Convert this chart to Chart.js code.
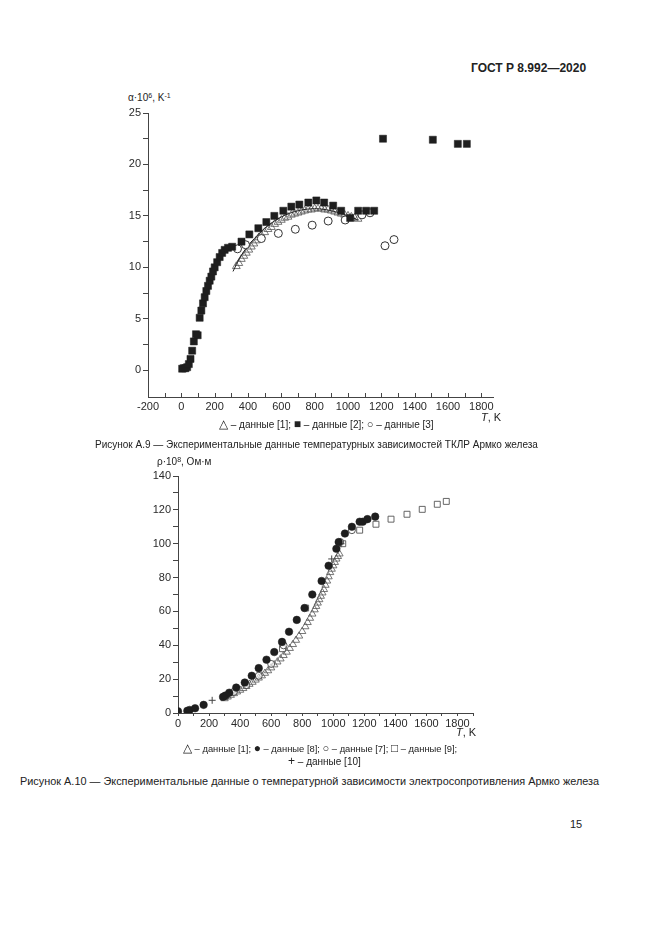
<!DOCTYPE html>
<html lang="ru">
<head>
<meta charset="UTF-8">
<title>ГОСТ Р 8.992—2020</title>
<script src="https://cdn.jsdelivr.net/npm/chart.js"></script>
<style>
  body { margin: 0; background: #fff; font-family: "Liberation Sans", Arial, sans-serif; color: #222; }
  .page { position: relative; width: 661px; height: 935px; overflow: hidden; }
  .t { position: absolute; white-space: nowrap; line-height: 1; }
  canvas { position: absolute; }
  sup { font-size: 70%; vertical-align: 0; position: relative; top: -0.45em; }
</style>
</head>
<body>
<div class="page">
  <div class="t" style="left:471px;top:62px;font-size:12px;font-weight:bold;">ГОСТ Р 8.992—2020</div>

  <div class="t" style="left:128px;top:93px;font-size:10px;">α·10<sup>6</sup>, K<sup>-1</sup></div>
  <canvas id="alphaChart" width="420" height="330" style="left:100px;top:100px;"></canvas>
  <div class="t" style="left:481px;top:412px;font-size:11px;"><i>T</i>, K</div>
  <div class="t" style="left:219px;top:418px;font-size:10px;"><span style="font-size:12px">△</span> – данные [1]; <span style="font-size:12px">■</span> – данные [2]; <span style="font-size:11px">○</span> – данные [3]</div>
  <div class="t" style="left:95px;top:440px;font-size:10px;">Рисунок А.9 — Экспериментальные данные температурных зависимостей ТКЛР Армко железа</div>

  <div class="t" style="left:157px;top:457px;font-size:10px;">ρ·10<sup>8</sup>, Ом·м</div>
  <canvas id="rhoChart" width="360" height="280" style="left:130px;top:463px;"></canvas>
  <div class="t" style="left:456px;top:727px;font-size:11px;"><i>T</i>, K</div>
  <div class="t" style="left:183px;top:742px;font-size:9.4px;"><span style="font-size:12px">△</span> – данные [1]; <span style="font-size:12px">●</span> – данные [8]; <span style="font-size:11px">○</span> – данные [7]; <span style="font-size:12px">□</span> – данные [9];</div>
  <div class="t" style="left:288px;top:755px;font-size:10px;"><span style="font-size:12px">+</span> – данные [10]</div>
  <div class="t" style="left:20px;top:776px;font-size:10.9px;">Рисунок А.10 — Экспериментальные данные о температурной зависимости электросопротивления Армко железа</div>

  <div class="t" style="left:570px;top:819px;font-size:11px;">15</div>
</div>

<script>
// ---- Рисунок А.9: ТКЛР, alpha*1e6 (1/K) vs T (K) ----
const alphaT1 = [330, 345, 360, 375, 390, 405, 420, 435, 450, 465, 480, 500, 520, 540, 560, 580, 600, 620, 640, 660,
                 680, 700, 720, 740, 760, 780, 800, 820, 840, 860, 880, 900, 920, 940, 960, 980, 1000, 1020, 1040, 1060];
const alpha1  = [10.1, 10.4, 10.8, 11.1, 11.4, 11.7, 12.0, 12.3, 12.6, 12.9, 13.1, 13.4, 13.7, 13.9, 14.2, 14.4, 14.6, 14.8, 14.9, 15.1,
                 15.2, 15.3, 15.4, 15.5, 15.6, 15.6, 15.7, 15.7, 15.7, 15.6, 15.6, 15.5, 15.4, 15.3, 15.2, 15.1, 15.0, 14.9, 14.8, 14.7];
const fitT1   = [310, 350, 400, 450, 500, 600, 700, 800, 900, 1000, 1060];
const fit1    = [9.6, 10.9, 12.1, 13.0, 13.8, 14.9, 15.5, 15.7, 15.5, 15.0, 14.6];
const alphaT2 = [5, 15, 25, 35, 45, 55, 65, 75, 88, 98, 110, 120, 130, 140, 150, 160, 170, 180, 190, 200,
                 215, 230, 245, 260, 280, 305, 361, 408, 462, 510, 558, 612, 660, 708, 762, 810, 857, 911, 959,
                 1013, 1061, 1109, 1157, 1210, 1509, 1659, 1713];
const alpha2  = [0.15, 0.2, 0.2, 0.3, 0.6, 1.1, 1.9, 2.8, 3.5, 3.4, 5.1, 5.8, 6.5, 7.1, 7.7, 8.2, 8.7, 9.1, 9.6, 10.0,
                 10.5, 11.0, 11.4, 11.7, 11.9, 12.0, 12.5, 13.2, 13.8, 14.4, 15.0, 15.5, 15.9, 16.1, 16.3, 16.5, 16.3, 16.0, 15.5,
                 14.8, 15.5, 15.5, 15.5, 22.5, 22.4, 22.0, 22.0];
const alphaT3 = [337, 385, 480, 582, 684, 785, 881, 983, 1084, 1132, 1222, 1276];
const alpha3  = [11.8, 12.2, 12.8, 13.3, 13.7, 14.1, 14.5, 14.6, 15.1, 15.3, 12.1, 12.7];

// ---- Рисунок А.10: rho*1e8 (Ом·м) vs T (K) ----
const rhoT1 = [300, 320, 340, 360, 380, 400, 420, 440, 460, 480, 500, 520, 540, 560, 580, 600, 620, 640, 660, 680, 700,
               720, 740, 760, 780, 800, 820, 835, 850, 865, 880, 890, 900, 910, 920, 930, 940, 950, 960, 970, 980, 990, 1000, 1010, 1020, 1030, 1040];
const rho1  = [8.5, 9.5, 10.5, 11.5, 12.5, 13.5, 14.5, 15.7, 17, 18.2, 19.5, 20.7, 22, 23.5, 25, 26.7, 28.5, 30.2, 32, 34, 36,
               38.2, 40.5, 43, 45.5, 48.2, 51, 53.5, 56, 58.5, 61, 63, 65, 67, 69, 71, 73, 75.5, 78, 80.5, 83, 85, 87, 89, 91, 92.5, 94];
const rhoT8 = [0, 60, 75, 110, 165, 290, 305, 330, 375, 430, 475, 520, 570, 620, 670, 715, 765, 815, 865, 925, 970, 1020, 1035, 1075, 1120, 1170, 1190, 1220, 1270];
const rho8  = [1, 1.3, 1.8, 2.8, 4.8, 9.5, 10.3, 12, 15, 18, 22, 26.5, 31.5, 36, 42, 48, 55, 62, 70, 78, 87, 97, 101, 106, 110, 113, 113, 114.5, 116];
const rhoT7 = [310, 360, 440, 520, 600, 680, 1045, 1120];
const rho7  = [10, 12.5, 16.5, 22, 29, 40, 101, 108];
const rhoT9 = [673, 822, 1061, 1170, 1275, 1372, 1475, 1573, 1670, 1728];
const rho9  = [38, 62, 100, 108, 111.5, 114.5, 117.4, 120.3, 123.3, 125];
const rhoT10 = [220, 990, 1050];
const rho10  = [7.5, 91, 100];

const xy = (xs, ys) => xs.map((x, i) => ({ x: x, y: ys[i] }));

const ink = '#2a2a2a';
const tickFont = { family: '"Liberation Sans", Arial, sans-serif', size: 11 };

// x-axis tick marks pointing into the plot
const innerTicks = {
  id: 'innerTicks',
  afterDraw(chart, args, opts) {
    if (!opts.enabled) return;
    const sx = chart.scales.x, ctx = chart.ctx;
    ctx.save();
    ctx.strokeStyle = '#444';
    ctx.lineWidth = 1;
    sx.ticks.forEach(t => {
      const px = Math.round(sx.getPixelForValue(t.value)) + 0.5;
      ctx.beginPath();
      ctx.moveTo(px, sx.top);
      ctx.lineTo(px, sx.top - 4);
      ctx.stroke();
    });
    ctx.restore();
  }
};

function axes(o) {
  return {
    x: {
      type: 'linear', min: o.xmin, max: o.xmax,
      afterFit: s => { s.height = o.xh; },
      border: { display: true, color: '#444', width: 1 },
      grid: { drawOnChartArea: false, drawTicks: !o.inner, tickLength: 3, color: '#444' },
      ticks: {
        stepSize: 100, includeBounds: false, autoSkip: false, maxRotation: 0, padding: o.inner ? 3 : 1,
        color: ink, font: tickFont,
        callback: v => (v % 200 === 0 ? String(v) : '')
      }
    },
    y: {
      type: 'linear', min: o.ymin, max: o.ymax,
      afterFit: s => { s.width = 48; },
      afterBuildTicks: s => { s.ticks = s.ticks.filter(t => t.value >= o.ymin + 0.5); if (o.ymin === 0) s.ticks.unshift({ value: 0 }); },
      border: { display: true, color: '#444', width: 1 },
      grid: { drawOnChartArea: false, drawTicks: true, tickLength: 5, color: '#444' },
      ticks: {
        stepSize: o.ystep, includeBounds: false, autoSkip: false, padding: 2,
        color: ink, font: tickFont,
        callback: v => (Math.abs(v % o.ylab) < 1e-6 ? String(v) : '')
      }
    }
  };
}

const common = {
  responsive: false,
  animation: false,
  plugins: { legend: { display: false }, tooltip: { enabled: false } }
};

new Chart(document.getElementById('alphaChart'), {
  type: 'scatter',
  data: {
    datasets: [
      { data: xy(alphaT2, alpha2), pointStyle: 'rect', pointRadius: 5, backgroundColor: '#1e1e1e', borderColor: '#1e1e1e', borderWidth: 0.5 },
      { data: xy(alphaT3, alpha3), pointStyle: 'circle', pointRadius: 4, backgroundColor: '#fff', borderColor: '#333', borderWidth: 1 },
      { data: xy(fitT1, fit1), showLine: true, pointRadius: 0, borderColor: '#222', borderWidth: 1, cubicInterpolationMode: 'monotone', fill: false },
      { data: xy(alphaT1, alpha1), pointStyle: 'triangle', pointRadius: 4.5, backgroundColor: 'rgba(0,0,0,0)', borderColor: '#555', borderWidth: 0.8 }
    ]
  },
  options: Object.assign({}, common, {
    layout: { padding: { top: 13, right: 27, left: 0, bottom: 0 } },
    scales: axes({ xmin: -200, xmax: 1870, xh: 33, inner: true, ymin: -2.6, ymax: 25, ystep: 2.5, ylab: 5 }),
    plugins: Object.assign({}, common.plugins, { innerTicks: { enabled: true } })
  }),
  plugins: [innerTicks]
});

new Chart(document.getElementById('rhoChart'), {
  type: 'scatter',
  data: {
    datasets: [
      { data: xy(rhoT8, rho8), pointStyle: 'circle', pointRadius: 3.8, backgroundColor: '#1e1e1e', borderColor: '#1e1e1e', borderWidth: 0.5 },
      { data: xy(rhoT10, rho10), pointStyle: 'cross', pointRadius: 3.5, borderColor: '#444', borderWidth: 1 },
      { data: xy(rhoT7, rho7), pointStyle: 'circle', pointRadius: 3.5, backgroundColor: 'rgba(255,255,255,0.6)', borderColor: '#444', borderWidth: 0.9 },
      { data: xy(rhoT9, rho9), pointStyle: 'rect', pointRadius: 4.2, backgroundColor: 'rgba(255,255,255,0.6)', borderColor: '#555', borderWidth: 0.9 },
      { data: xy(rhoT1, rho1), pointStyle: 'triangle', pointRadius: 4.2, backgroundColor: 'rgba(0,0,0,0)', borderColor: '#555', borderWidth: 0.8 }
    ]
  },
  options: Object.assign({}, common, {
    layout: { padding: { top: 13, right: 17, left: 0, bottom: 0 } },
    scales: axes({ xmin: 0, xmax: 1900, xh: 30, inner: false, ymin: 0, ymax: 140, ystep: 10, ylab: 20 }),
    plugins: Object.assign({}, common.plugins, { innerTicks: { enabled: false } })
  }),
  plugins: [innerTicks]
});
</script>
</body>
</html>
